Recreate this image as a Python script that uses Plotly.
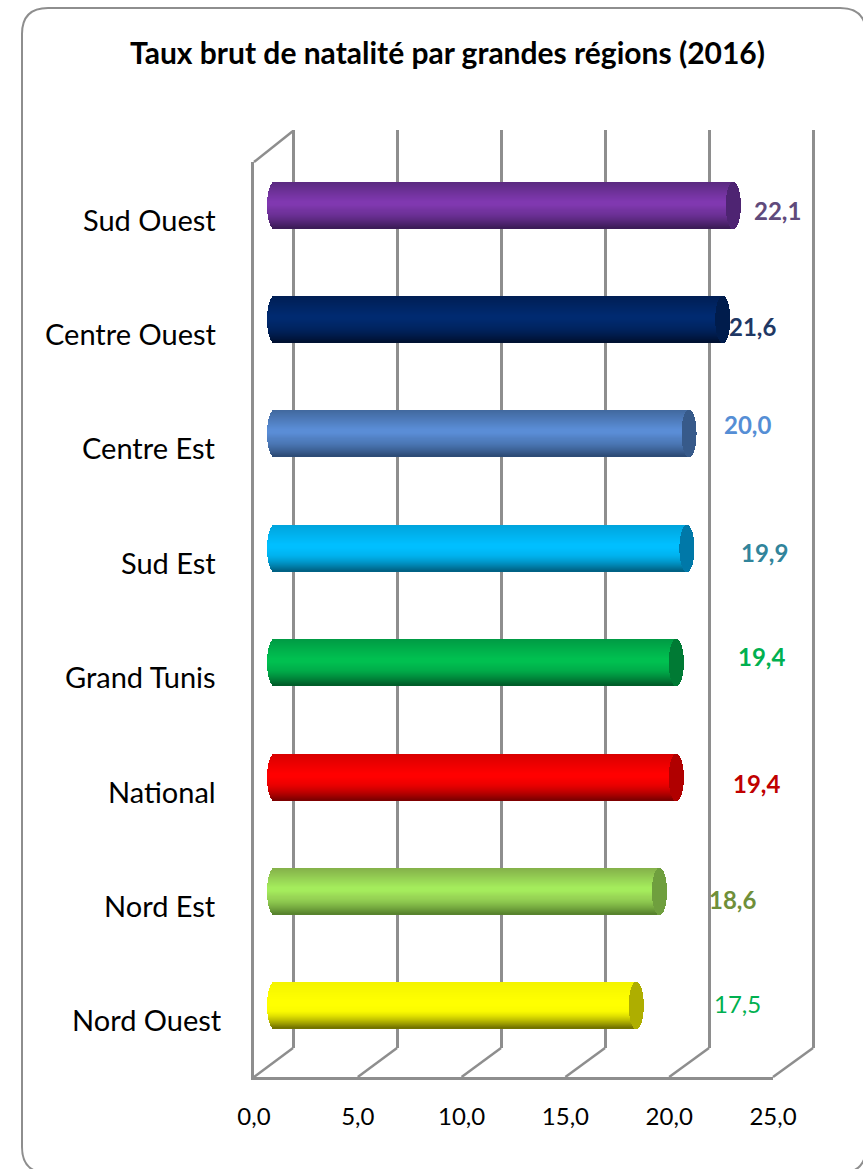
import math
import plotly.graph_objects as go

# ---------- data ----------
categories = ["Nord Ouest", "Nord Est", "National", "Grand Tunis", "Sud Est", "Centre Est", "Centre Ouest", "Sud Ouest"]
values = [17.5, 18.6, 19.4, 19.4, 19.9, 20.0, 21.6, 22.1]
value_labels = ["17,5", "18,6", "19,4", "19,4", "19,9", "20,0", "21,6", "22,1"]
x_ticks = [0, 5, 10, 15, 20, 25]
x_tick_labels = ["0,0", "5,0", "10,0", "15,0", "20,0", "25,0"]
title = "Taux brut de natalité par grandes régions (2016)"

# ---------- styles ----------
W, H = 863, 1169
GREY = "#8e8e8e"
FONT = "Lato"
# top edge, middle highlight, bottom edge, end cap
body_top = ["#F4F400", "#84B04A", "#D80000", "#009A44", "#00A4DC", "#41689E", "#001E54", "#5A2A80"]
body_mid = ["#FFFF00", "#A4EC5C", "#FF0000", "#00C050", "#00BFFF", "#5A8DD6", "#002A70", "#8038B0"]
body_bot = ["#6E6E00", "#55802C", "#7A0000", "#005A28", "#005F80", "#2C4A74", "#001030", "#3A1B55"]
cap_col = ["#AEAE00", "#6F9F3E", "#B00000", "#007A34", "#0078A8", "#375A8A", "#001C4C", "#4E2472"]
label_col = ["#00B050", "#6F8F3A", "#C00000", "#00B050", "#31849B", "#558ED5", "#1F3864", "#604A7B"]
label_bold = [False, True, True, True, True, True, True, True]
label_xc = [737, 732, 756, 761, 764, 747, 752, 777]
label_yc = [1003, 900, 783, 656, 552, 424, 326, 211]


def px(x):
    return x / W


def py(y):
    return 1 - y / H


def hex2rgb(c):
    return [int(c[i:i + 2], 16) for i in (1, 3, 5)]


def mix(a, b, t):
    ra, rb = hex2rgb(a), hex2rgb(b)
    return "rgb(%d,%d,%d)" % tuple(round(p + (q - p) * t) for p, q in zip(ra, rb))


def mix_hex(a, b, t):
    ra, rb = hex2rgb(a), hex2rgb(b)
    return "#%02x%02x%02x" % tuple(round(p + (q - p) * t) for p, q in zip(ra, rb))


def shade(i, t):
    # t = 0 at the top of the cylinder, 1 at the bottom
    if t < 0.42:
        return mix(body_top[i], body_mid[i], t / 0.42)
    if t < 0.62:
        return body_mid[i] if t < 0.5 else mix(body_mid[i], body_top[i], (t - 0.5) / 0.12 * 0.35)
    return mix(mix_hex(body_mid[i], body_top[i], 0.35), body_bot[i], ((t - 0.62) / 0.38) ** 1.4)


fig = go.Figure()

# bars: each cylinder is a stack of thin horizontal bars on the x3/y3 axes
STRIPS = 46
SPACING = 114.3
PX_PER_UNIT = 21.1
A = 7.5 / PX_PER_UNIT
BAR_ZERO = 267
for s in range(STRIPS):
    t = (s + 0.5) / STRIPS  # from top to bottom
    u = 2 * t - 1
    bulge = A * math.sqrt(max(0, 1 - (u * 0.985) ** 2))
    offset = (STRIPS / 2 - s - 1) / SPACING
    fig.add_trace(go.Bar(
        orientation="h", y=categories,
        x=[v + bulge - (A - bulge) for v in values],
        base=[A - bulge] * len(values),
        width=1.25 / SPACING, offset=offset,
        marker=dict(color=[shade(i, t) for i in range(len(values))], line=dict(width=0)),
        xaxis="x3", yaxis="y3", hoverinfo="skip", showlegend=False,
    ))
for s in range(STRIPS):
    t = (s + 0.5) / STRIPS
    u = 2 * t - 1
    bulge = A * math.sqrt(max(0, 1 - (u * 0.985) ** 2))
    offset = (STRIPS / 2 - s - 1) / SPACING
    fig.add_trace(go.Bar(
        orientation="h", y=categories,
        x=[2 * bulge] * len(values),
        base=[v - bulge for v in values],
        width=1.25 / SPACING, offset=offset,
        marker=dict(color=cap_col, line=dict(width=0)),
        xaxis="x3", yaxis="y3", hoverinfo="skip", showlegend=False,
    ))

# invisible traces keep the front and back subplots alive
fig.add_trace(go.Scatter(x=[0], y=[categories[0]], mode="markers", marker=dict(opacity=0),
                         xaxis="x", yaxis="y", hoverinfo="skip", showlegend=False))
fig.add_trace(go.Scatter(x=[0], y=[0], mode="markers", marker=dict(opacity=0),
                         xaxis="x2", yaxis="y2", hoverinfo="skip", showlegend=False))

# frame, floor and side wall
FRONT_X0, FRONT_STEP = 254, 103.8
BACK_X0, BACK_STEP = 293, 104
LINE_W = 2.5
shapes = []
L, T, R, B, r = 22, 8, 866, 1173, 26
path = (f"M {px(L + r)} {py(T)} L {px(R - r)} {py(T)} Q {px(R)} {py(T)} {px(R)} {py(T + r)} "
        f"L {px(R)} {py(B - r)} Q {px(R)} {py(B)} {px(R - r)} {py(B)} "
        f"L {px(L + r)} {py(B)} Q {px(L)} {py(B)} {px(L)} {py(B - r)} "
        f"L {px(L)} {py(T + r)} Q {px(L)} {py(T)} {px(L + r)} {py(T)} Z")
shapes.append(dict(type="path", xref="paper", yref="paper", path=path,
                   line=dict(color=GREY, width=2), fillcolor="white", layer="below"))
for k in range(len(x_ticks)):
    shapes.append(dict(type="line", xref="paper", yref="paper",
                       x0=px(FRONT_X0 + k * FRONT_STEP), y0=py(1077),
                       x1=px(BACK_X0 + k * BACK_STEP), y1=py(1048),
                       line=dict(color=GREY, width=LINE_W), layer="below"))
shapes.append(dict(type="line", xref="paper", yref="paper",
                   x0=px(254), y0=py(162), x1=px(293), y1=py(131),
                   line=dict(color=GREY, width=LINE_W), layer="below"))

# text
annotations = [dict(xref="paper", yref="paper", x=px(447), y=py(52), text=f"<b>{title}</b>",
                    showarrow=False, xanchor="center", yanchor="middle",
                    font=dict(family=FONT, size=30, color="#000000"))]
for i, c in enumerate(categories):
    annotations.append(dict(xref="paper", yref="y", x=px(224 if c == "Nord Ouest" else 218), y=c,
                            text=c, showarrow=False, xanchor="right", yanchor="middle",
                            font=dict(family=FONT, size=29, color="#000000")))
    txt = value_labels[i]
    annotations.append(dict(xref="paper", yref="paper", x=px(label_xc[i]), y=py(label_yc[i]),
                            text=f"<b>{txt}</b>" if label_bold[i] else txt, showarrow=False,
                            xanchor="center", yanchor="middle",
                            font=dict(family=FONT, size=24, color=label_col[i])))

BACK_PAD = 0.25  # keeps the grid lines at 0 and 25 inside the axis range
BACK_UNIT = BACK_STEP / 5

fig.update_layout(
    width=W, height=H, autosize=False,
    margin=dict(l=0, r=0, t=0, b=0, autoexpand=False),
    paper_bgcolor="white", plot_bgcolor="rgba(0,0,0,0)",
    barmode="overlay", bargap=0, showlegend=False,
    shapes=shapes, annotations=annotations,
    xaxis=dict(domain=[px(254), px(773)], range=[0, 25], anchor="y", automargin=False,
               tickmode="array", tickvals=x_ticks, ticktext=x_tick_labels,
               ticks="outside", ticklen=16, tickcolor="rgba(0,0,0,0)",
               tickfont=dict(family=FONT, size=24, color="#000000"),
               showgrid=False, zeroline=False, showline=True, linecolor=GREY, linewidth=LINE_W),
    yaxis=dict(domain=[py(1077), py(162)], type="category", categoryorder="array",
               categoryarray=categories, range=[-0.5, 7.5], anchor="x", automargin=False,
               showticklabels=False, ticks="", showgrid=False, zeroline=False,
               showline=True, linecolor=GREY, linewidth=LINE_W),
    xaxis2=dict(domain=[px(BACK_X0 - BACK_PAD * BACK_UNIT), px(BACK_X0 + 25 * BACK_UNIT + BACK_PAD * BACK_UNIT)],
                range=[-BACK_PAD, 25 + BACK_PAD], anchor="y2", automargin=False,
                tickmode="array", tickvals=x_ticks, showticklabels=False, ticks="",
                showgrid=True, gridcolor=GREY, gridwidth=LINE_W, zeroline=False, showline=False),
    yaxis2=dict(domain=[py(1048), py(130)], range=[0, 1], anchor="x2", visible=False, automargin=False),
    xaxis3=dict(domain=[px(BAR_ZERO), px(BAR_ZERO + 25 * PX_PER_UNIT)], range=[0, 25], anchor="y3", visible=False, automargin=False),
    yaxis3=dict(domain=[py(1062.5), py(147.5)], type="category", categoryorder="array",
                categoryarray=categories, range=[-0.5, 7.5], anchor="x3", visible=False, automargin=False),
)

fig.write_html("out.html", config={"displayModeBar": False},
               post_script="document.body.style.margin='0';document.body.style.overflow='hidden';"
                           "var s=document.createElement('style');s.textContent='text{font-variant-ligatures:none}';"
                           "document.head.appendChild(s);")
